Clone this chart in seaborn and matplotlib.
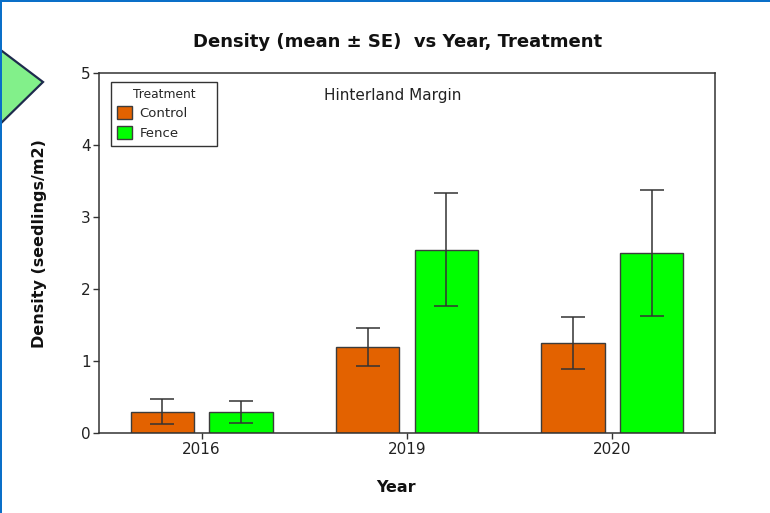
import numpy as np
import pandas as pd
import seaborn as sns
import matplotlib.pyplot as plt
from matplotlib.patches import Polygon, Rectangle

# Seedling density by year and treatment (mean and standard error)
years = ["2016", "2019", "2020"]
treatments = ["Control", "Fence"]
control_mean = [0.30, 1.20, 1.25]
control_se = [0.17, 0.26, 0.36]
fence_mean = [0.30, 2.55, 2.50]
fence_se = [0.155, 0.785, 0.87]
y_ticks = [0, 1, 2, 3, 4, 5]

df = pd.DataFrame({
    "Year": years * 2,
    "Treatment": ["Control"] * len(years) + ["Fence"] * len(years),
    "Density": control_mean + fence_mean,
    "SE": control_se + fence_se,
})

sns.set_theme(style="white")
plt.rcParams["font.family"] = ["DejaVu Sans"]

W, H = 770, 513
fig = plt.figure(figsize=(W / 100, H / 100), dpi=100)
ax = fig.add_axes([99 / W, 1 - 433.3 / H, 616 / W, 360.3 / H])

palette = {"Control": "#E36200", "Fence": "#00FF00"}
sns.barplot(
    data=df, x="Year", y="Density", hue="Treatment",
    order=years, hue_order=treatments, palette=palette,
    errorbar=None, width=0.766, gap=0.196, saturation=1,
    edgecolor="#3c3c3c", linewidth=1.0, ax=ax,
)

# standard-error whiskers at each bar centre
for level, cont in zip(treatments, ax.containers):
    sub = df[df["Treatment"] == level].set_index("Year").reindex(years)
    xs = [b.get_x() + b.get_width() / 2 for b in cont]
    ax.errorbar(xs, sub["Density"].values, yerr=sub["SE"].values, fmt="none",
                ecolor="#333333", elinewidth=1.1, capsize=8.5, capthick=1.1,
                zorder=5)

ax.set_xlim(-0.5, 2.5)
ax.set_ylim(0, 5)
ax.set_yticks(y_ticks)
ax.set_xlabel("")
ax.set_ylabel("")
for s in ax.spines.values():
    s.set_visible(True)
    s.set_color("#333333")
    s.set_linewidth(1.1)
ax.tick_params(axis="both", which="major", bottom=True, left=True,
               direction="out", length=4, width=1, color="#333333",
               labelsize=11, pad=2, labelcolor="#222222")

handles, labels = ax.get_legend_handles_labels()
for h in handles:
    h.set_edgecolor("#3c3c3c")
leg_w, leg_h = 106.6 / 616, 62 / 360.3
leg = ax.legend(handles, labels, title="Treatment", loc="upper left",
                bbox_to_anchor=(0.019, 0.975 - leg_h, leg_w, leg_h),
                mode="expand", frameon=True, fancybox=False,
                edgecolor="black", fontsize=9.5, title_fontsize=8.8,
                handlelength=1.2, handleheight=1.1, handletextpad=0.55,
                borderpad=0.45, labelspacing=0.42, borderaxespad=0)
leg.get_frame().set_linewidth(1.0)

ax.text(0.476, 0.937, "Hinterland Margin", transform=ax.transAxes,
        ha="center", va="center", fontsize=11, color="#222222")

fig.text(398 / W, 1 - 42 / H, "Density (mean \u00b1 SE)  vs Year, Treatment",
         ha="center", va="center", fontsize=13, fontweight="bold", color="#111111")
fig.text(40 / W, 1 - 244 / H, "Density (seedlings/m2)", rotation=90,
         ha="center", va="center", fontsize=11.5, fontweight="bold", color="#111111")
fig.text(396 / W, 1 - 488 / H, "Year", ha="center", va="center",
         fontsize=11.5, fontweight="bold", color="#111111")

# slide decorations: green arrow tab and blue frame edges
tab = Polygon([(-6 / W, 1 - 45 / H), (43 / W, 1 - 82 / H), (-6 / W, 1 - 130 / H)],
              closed=True, transform=fig.transFigure, facecolor="#82F08A",
              edgecolor="#1E2B4D", linewidth=1.6, clip_on=False)
fig.patches.append(tab)
fig.patches.append(Rectangle((0, 1 - 2 / H), 1, 2 / H, transform=fig.transFigure,
                             facecolor="#0A6FC8", edgecolor="none"))
fig.patches.append(Rectangle((0, 0), 2 / W, 1, transform=fig.transFigure,
                             facecolor="#0A6FC8", edgecolor="none"))

fig.savefig("out.png", dpi=100)
